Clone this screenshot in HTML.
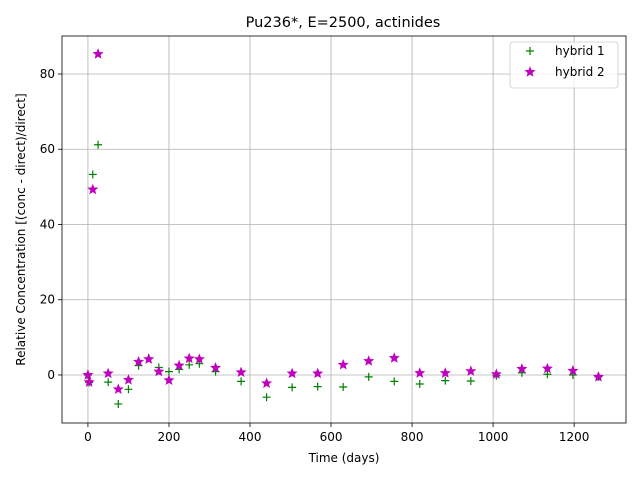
<!DOCTYPE html>
<html><head><meta charset="utf-8"><style>
body{margin:0;background:#fff;font-family:"Liberation Sans","DejaVu Sans",sans-serif}
svg text{font-family:"DejaVu Sans","Liberation Sans",sans-serif}
</style></head><body>
<svg id="c" width="640" height="480" xmlns="http://www.w3.org/2000/svg"></svg>
<script>
const days=[0,3,12,25,50,75,100,125,150,175,200,225,250,275,315,378,441,504,567,630,693,756,819,882,945,1008,1071,1134,1197,1260];
const hybrid1=[0,-2,53.3,61.2,-1.9,-7.7,-3.8,2.5,4.5,2.0,0.9,1.5,2.7,3.0,0.9,-1.7,-5.9,-3.3,-3.1,-3.2,-0.5,-1.7,-2.4,-1.5,-1.6,-0.2,0.6,0.2,0,-0.5];
const hybrid2=[0,-1.9,49.3,85.3,0.4,-3.8,-1.3,3.5,4.2,0.9,-1.4,2.5,4.4,4.2,1.9,0.7,-2.2,0.4,0.4,2.7,3.7,4.5,0.5,0.5,1.0,0.2,1.6,1.7,1.1,-0.5];
const xTicks=[0,200,400,600,800,1000,1200];
const yTicks=[0,20,40,60,80];
const L=62,R=626,T=36,B=423,xmin=-64,xmax=1328,ymin=-12.76,ymax=90.1;
const X=v=>L+(v-xmin)/(xmax-xmin)*(R-L);
const Y=v=>B-(v-ymin)/(ymax-ymin)*(B-T);
const svg=document.getElementById('c');
const NS='http://www.w3.org/2000/svg';
function mk(tag,attrs,parent){const e=document.createElementNS(NS,tag);for(const k in attrs)e.setAttribute(k,attrs[k]);(parent||svg).appendChild(e);return e;}
let t=mk('text',{x:343,y:27,'text-anchor':'middle','font-size':14.5});t.textContent='Pu236*, E=2500, actinides';


xTicks.forEach(v=>{const x=X(v);
 let g=mk('line',{x1:x,x2:x,y1:T,y2:B,stroke:'#b0b0b0','stroke-width':0.8});
 
 
 mk('line',{x1:x,x2:x,y1:B,y2:B+4,stroke:'#000','stroke-width':0.8});
 let l=mk('text',{x:x,y:B+18,'text-anchor':'middle','font-size':12});l.textContent=v;
 
 });
yTicks.forEach(v=>{const y=Y(v);
 let g=mk('line',{x1:L,x2:R,y1:y,y2:y,stroke:'#b0b0b0','stroke-width':0.8});
 
 
 mk('line',{x1:L-4,x2:L,y1:y,y2:y,stroke:'#000','stroke-width':0.8});
 let l=mk('text',{x:L-7,y:y+4,'text-anchor':'end','font-size':12});l.textContent=v;
 
 });
function plus(x,y,p){mk('path',{d:`M${x-4},${y}H${x+4}M${x},${y-4}V${y+4}`,stroke:'#008000','stroke-width':1.2,fill:'none'},p);}
function star(x,y,p){let d='';for(let i=0;i<10;i++){const r=i%2?2.2:5,a=-Math.PI/2+i*Math.PI/5;d+=(i?'L':'M')+(x+r*Math.cos(a)).toFixed(2)+','+(y+r*Math.sin(a)).toFixed(2);}mk('path',{d:d+'Z',fill:'#bf00bf',stroke:'#bf00bf','stroke-width':0.6},p);}
const g1=mk('g',{});
days.forEach((d,i)=>plus(X(d),Y(hybrid1[i]),g1));
const g2=mk('g',{});
days.forEach((d,i)=>star(X(d),Y(hybrid2[i]),g2));
let fr=mk('rect',{x:L,y:T,width:R-L,height:B-T,fill:'none',stroke:'#000','stroke-width':0.8});


let xl=mk('text',{x:344,y:462,'text-anchor':'middle','font-size':12});xl.textContent='Time (days)';


let yl=mk('text',{x:0,y:0,'text-anchor':'middle','font-size':12,transform:`translate(25,${(T+B)/2}) rotate(-90)`});yl.textContent='Relative Concentration [(conc - direct)/direct]';


const lg=mk('g',{});
mk('rect',{x:510,y:42,width:108,height:46,rx:3,fill:'#fff','fill-opacity':0.8,stroke:'#ccc','stroke-width':0.8},lg);
plus(530,51,lg);star(530,72,lg);
let e1=mk('text',{x:555,y:55,'font-size':12},lg);e1.textContent='hybrid 1';


let e2=mk('text',{x:555,y:76,'font-size':12},lg);e2.textContent='hybrid 2';


</script>
</body></html>
